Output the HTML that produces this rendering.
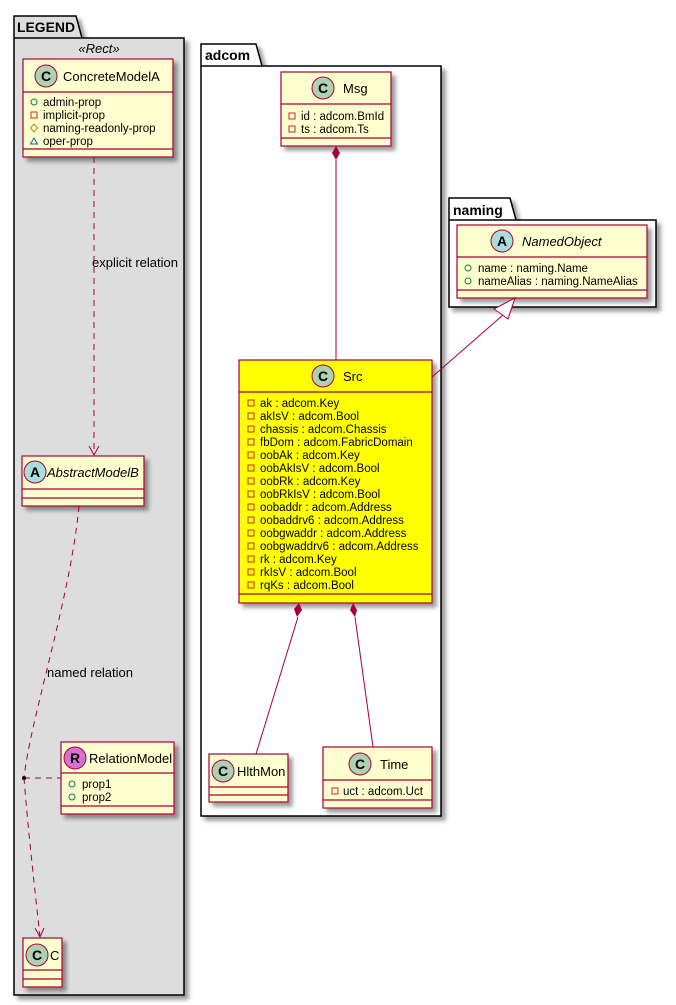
<!DOCTYPE html>
<html><head><meta charset="utf-8"><style>
html,body{margin:0;padding:0;background:#fff;}
svg{display:block;font-family:"Liberation Sans",sans-serif;}
</style></head><body>
<svg width="676" height="1005" viewBox="0 0 676 1005" xmlns="http://www.w3.org/2000/svg">
<defs>
<filter id="sh" x="-10%" y="-10%" width="130%" height="130%"><feGaussianBlur in="SourceAlpha" stdDeviation="2"/><feOffset dx="4" dy="4"/><feComponentTransfer><feFuncA type="linear" slope="0.4"/></feComponentTransfer><feMerge><feMergeNode/><feMergeNode in="SourceGraphic"/></feMerge></filter>
</defs>
<!-- LEGEND package -->
<g filter="url(#sh)">
<path d="M14,38 L14,16 L76,16 L82,38 L184,38 L184,995 L14,995 Z" fill="#DDDDDD" stroke="#000" stroke-width="1.5"/>
</g>
<line x1="14" y1="38" x2="82" y2="38" stroke="#000" stroke-width="1.5"/>
<text x="17" y="32" font-size="14" font-weight="bold" textLength="58" lengthAdjust="spacingAndGlyphs">LEGEND</text>
<text x="99" y="53" font-size="13" font-style="italic" text-anchor="middle">«Rect»</text>

<!-- adcom package -->
<g filter="url(#sh)">
<path d="M201,66 L201,44 L256,44 L262,66 L441,66 L441,816 L201,816 Z" fill="#fff" stroke="#000" stroke-width="1.5"/>
</g>
<line x1="201" y1="66" x2="262" y2="66" stroke="#000" stroke-width="1.5"/>
<text x="205" y="60" font-size="14" font-weight="bold">adcom</text>

<!-- naming package -->
<g filter="url(#sh)">
<path d="M449,220 L449,198 L510,198 L516,220 L656,220 L656,307 L449,307 Z" fill="#fff" stroke="#000" stroke-width="1.5"/>
</g>
<line x1="449" y1="220" x2="516" y2="220" stroke="#000" stroke-width="1.5"/>
<text x="453" y="215" font-size="14" font-weight="bold">naming</text>

<g stroke="#A80036" stroke-width="1.2" fill="#FEFECE">
<rect x="23" y="59" width="150" height="98" filter="url(#sh)"/>
<line x1="23" y1="92" x2="173" y2="92"/><line x1="23" y1="149" x2="173" y2="149"/>
<rect x="22" y="456" width="122" height="50" filter="url(#sh)"/>
<line x1="22" y1="489" x2="144" y2="489"/><line x1="22" y1="498" x2="144" y2="498"/>
<rect x="61" y="742" width="113" height="72" filter="url(#sh)"/>
<line x1="61" y1="773" x2="174" y2="773"/><line x1="61" y1="806" x2="174" y2="806"/>
<rect x="23" y="938" width="39" height="49" filter="url(#sh)"/>
<line x1="23" y1="970" x2="62" y2="970"/><line x1="23" y1="979" x2="62" y2="979"/>
<rect x="281" y="72" width="110" height="74" filter="url(#sh)"/>
<line x1="281" y1="104" x2="391" y2="104"/><line x1="281" y1="138" x2="391" y2="138"/>
<rect x="457" y="225" width="190" height="73" filter="url(#sh)"/>
<line x1="457" y1="257" x2="647" y2="257"/><line x1="457" y1="290" x2="647" y2="290"/>
<rect x="239" y="360" width="193" height="243" fill="#FFFF00" filter="url(#sh)"/>
<line x1="239" y1="392" x2="432" y2="392"/><line x1="239" y1="594" x2="432" y2="594"/>
<rect x="209" y="754" width="79" height="48" filter="url(#sh)"/>
<line x1="209" y1="787" x2="288" y2="787"/><line x1="209" y1="795" x2="288" y2="795"/>
<rect x="323" y="747" width="109" height="61" filter="url(#sh)"/>
<line x1="323" y1="780" x2="432" y2="780"/><line x1="323" y1="800" x2="432" y2="800"/>
</g>

<g stroke="#A80036" stroke-width="1">
<circle cx="46" cy="76" r="11" fill="#ADD1B2"/>
<circle cx="35" cy="472" r="11" fill="#A9DCDF"/>
<circle cx="75" cy="758" r="11" fill="#DA70D6"/>
<circle cx="37" cy="955" r="11" fill="#ADD1B2"/>
<circle cx="323" cy="88" r="11" fill="#ADD1B2"/>
<circle cx="502" cy="241" r="11" fill="#A9DCDF"/>
<circle cx="323" cy="376" r="11" fill="#ADD1B2"/>
<circle cx="223" cy="771" r="11" fill="#ADD1B2"/>
<circle cx="360" cy="764" r="11" fill="#ADD1B2"/>
</g>
<g font-size="14" font-weight="bold" text-anchor="middle">
<text x="46" y="81">C</text><text x="35" y="477">A</text><text x="75" y="763">R</text><text x="37" y="960">C</text>
<text x="323" y="93">C</text><text x="502" y="246">A</text><text x="323" y="381">C</text><text x="223" y="776">C</text><text x="360" y="769">C</text>
</g>
<g font-size="13">
<text x="63" y="81">ConcreteModelA</text>
<text x="47" y="477" font-style="italic">AbstractModelB</text>
<text x="89" y="763">RelationModel</text>
<text x="50" y="960">C</text>
<text x="343" y="93">Msg</text>
<text x="522" y="246" font-style="italic">NamedObject</text>
<text x="343" y="381">Src</text>
<text x="237" y="776">HlthMon</text>
<text x="380" y="769">Time</text>
</g>

<g font-size="11.5" fill="#000">
<text x="43" y="106">admin-prop</text><text x="43" y="119">implicit-prop</text><text x="43" y="132">naming-readonly-prop</text><text x="43" y="145">oper-prop</text>
<text x="82" y="788">prop1</text><text x="82" y="801">prop2</text>
<text x="301" y="120">id : adcom.BmId</text><text x="301" y="133">ts : adcom.Ts</text>
<text x="478" y="272">name : naming.Name</text><text x="478" y="285">nameAlias : naming.NameAlias</text>
<text x="343" y="795">uct : adcom.Uct</text>
<text x="260" y="407">ak : adcom.Key</text>
<text x="260" y="420">akIsV : adcom.Bool</text>
<text x="260" y="433">chassis : adcom.Chassis</text>
<text x="260" y="446">fbDom : adcom.FabricDomain</text>
<text x="260" y="459">oobAk : adcom.Key</text>
<text x="260" y="472">oobAkIsV : adcom.Bool</text>
<text x="260" y="485">oobRk : adcom.Key</text>
<text x="260" y="498">oobRkIsV : adcom.Bool</text>
<text x="260" y="511">oobaddr : adcom.Address</text>
<text x="260" y="524">oobaddrv6 : adcom.Address</text>
<text x="260" y="537">oobgwaddr : adcom.Address</text>
<text x="260" y="550">oobgwaddrv6 : adcom.Address</text>
<text x="260" y="563">rk : adcom.Key</text>
<text x="260" y="576">rkIsV : adcom.Bool</text>
<text x="260" y="589">rqKs : adcom.Bool</text>
</g>
<g fill="none" stroke-width="1">
<circle cx="34" cy="102" r="3" stroke="#038048"/>
<rect x="31" y="112" width="6" height="6" stroke="#C82930"/>
<path d="M34,124 L37.5,128 L34,132 L30.5,128 Z" stroke="#B38D22"/>
<path d="M34,138 L37.5,144 L30.5,144 Z" stroke="#1963A0"/>
<circle cx="72" cy="784" r="3" stroke="#038048"/><circle cx="72" cy="797" r="3" stroke="#038048"/>
<circle cx="468" cy="268" r="3" stroke="#038048"/><circle cx="468" cy="281" r="3" stroke="#038048"/>
<rect x="289" y="113" width="6" height="6" stroke="#C82930"/><rect x="289" y="126" width="6" height="6" stroke="#C82930"/>
<rect x="332" y="788" width="6" height="6" stroke="#C82930"/>
<g stroke="#C82930">
<rect x="248" y="400" width="6" height="6"/><rect x="248" y="413" width="6" height="6"/><rect x="248" y="426" width="6" height="6"/>
<rect x="248" y="439" width="6" height="6"/><rect x="248" y="452" width="6" height="6"/><rect x="248" y="465" width="6" height="6"/>
<rect x="248" y="478" width="6" height="6"/><rect x="248" y="491" width="6" height="6"/><rect x="248" y="504" width="6" height="6"/>
<rect x="248" y="517" width="6" height="6"/><rect x="248" y="530" width="6" height="6"/><rect x="248" y="543" width="6" height="6"/>
<rect x="248" y="556" width="6" height="6"/><rect x="248" y="569" width="6" height="6"/><rect x="248" y="582" width="6" height="6"/>
</g>
</g>

<g stroke="#A80036" stroke-width="1" fill="none">
<path d="M94,157 L94,455" stroke-dasharray="6,5"/>
<path d="M89,446 L94,455 L99,446"/>
<path d="M79,506 C70,600 30,720 24,778" stroke-dasharray="6,5"/>
<path d="M24,778 C28,830 36,900 40,937" stroke-dasharray="6,5"/>
<path d="M35,928 L40,937 L44,928"/>
<path d="M24,778 L61,778" stroke-dasharray="6,5"/>
<path d="M336,160 L336,360"/>
<path d="M298,617 L256,754"/>
<path d="M355,617 L373,747"/>
<path d="M432,377 L503,315"/>
<path d="M494,309 L515,298 L508,319 Z" fill="#fff"/>
</g>
<circle cx="24" cy="778" r="2" fill="#000"/>
<g fill="#A80036">
<path d="M336,146 L340,153 L336,160 L332,153 Z"/>
<path d="M299,603 L302,610 L297,617 L294,609 Z"/>
<path d="M353,603 L357,610 L355,617 L350,610 Z"/>
</g>
<g font-size="13">
<text x="92" y="267">explicit relation</text>
<text x="47" y="677">named relation</text>
</g>
</svg>
</body></html>
